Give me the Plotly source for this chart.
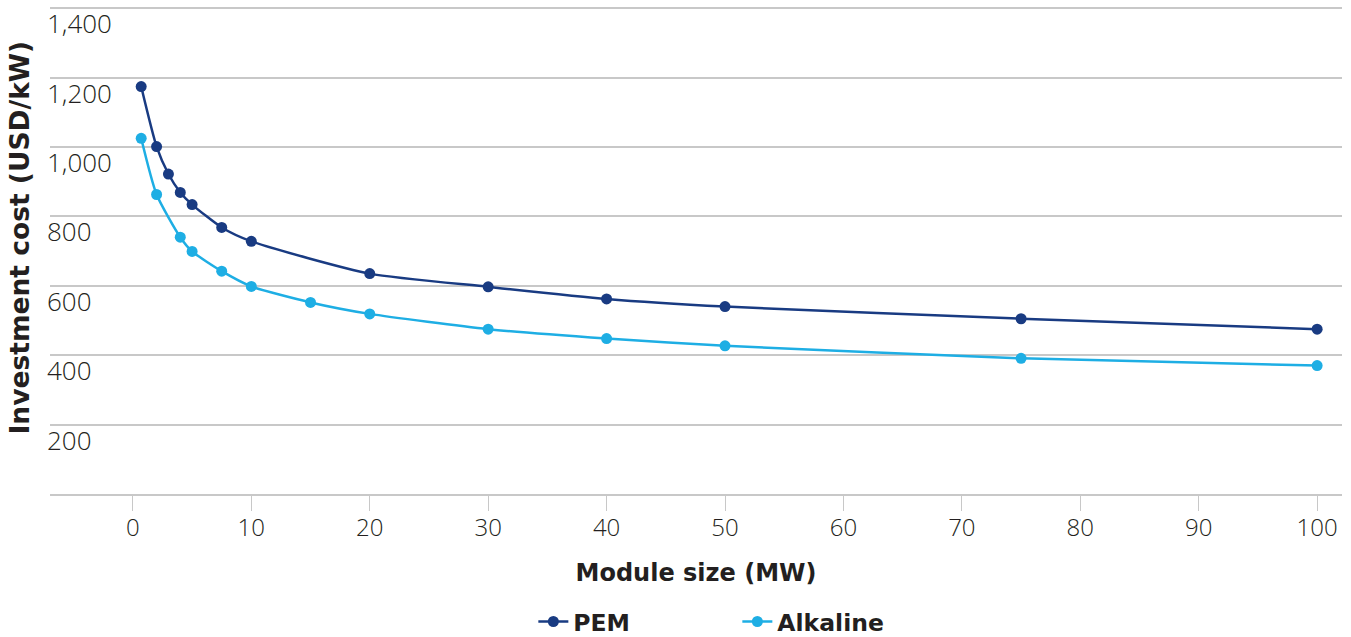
import plotly.graph_objects as go

pem_x = [0.7, 2, 3, 4, 5, 7.5, 10, 20, 30, 40, 50, 75, 100]
pem_y = [1174, 1001, 922, 869, 834, 768, 728, 635, 597, 562, 540, 505, 475]

alk_x = [0.7, 2, 4, 5, 7.5, 10, 15, 20, 30, 40, 50, 75, 100]
alk_y = [1025, 863, 740, 699, 642, 598, 552, 519, 475, 448, 427, 391, 370]

x_ticks = [0, 10, 20, 30, 40, 50, 60, 70, 80, 90, 100]
y_ticks = [200, 400, 600, 800, 1000, 1200, 1400]
y_ticktext = ["200", "400", "600", "800", "1,000", "1,200", "1,400"]

PEM_COLOR = "#193b82"
ALK_COLOR = "#1eaee4"
GRID = "#c8c8c8"
TXT = "#231f20"
TICK_FONT = "Open Sans"
BOLD_FONT = "DejaVu Sans"

fig = go.Figure()
fig.add_trace(go.Scatter(
    x=pem_x, y=pem_y, name="PEM", mode="lines+markers",
    line=dict(color=PEM_COLOR, width=2.5, shape="spline", smoothing=0.6),
    marker=dict(color=PEM_COLOR, size=11),
))
fig.add_trace(go.Scatter(
    x=alk_x, y=alk_y, name="Alkaline", mode="lines+markers",
    line=dict(color=ALK_COLOR, width=2.5, shape="spline", smoothing=0.6),
    marker=dict(color=ALK_COLOR, size=11),
))

# y tick labels sit just below their gridlines, as in the reference
for v, t in zip(y_ticks, y_ticktext):
    fig.add_annotation(
        x=0, xref="paper", xanchor="left", xshift=-5,
        y=v, yref="y", yanchor="middle", yshift=-15,
        text=t, showarrow=False,
        font=dict(family=TICK_FONT, size=26, color=TXT, weight=300),
    )

# y axis title (placed slightly above the plot's vertical centre, as in the reference)
fig.add_annotation(
    x=0, xref="paper", xanchor="center", xshift=-31,
    y=0.5, yref="paper", yanchor="middle", yshift=12,
    text="Investment cost (USD/kW)", textangle=-90, showarrow=False,
    font=dict(family=BOLD_FONT, size=26.5, color=TXT, weight="bold"),
)

fig.update_layout(
    width=1351, height=637,
    margin=dict(l=50, r=9, t=5, b=143),
    paper_bgcolor="white", plot_bgcolor="white",
    font=dict(family=TICK_FONT, color=TXT),
    showlegend=True,
    legend=dict(
        orientation="h", x=0.532, xanchor="center",
        yref="container", y=0.024, yanchor="middle",
        font=dict(family=BOLD_FONT, size=23.5, color=TXT, weight="bold"),
        entrywidth=159, tracegroupgap=0,
    ),
    xaxis=dict(
        range=[-7.0, 102.1], automargin=False,
        tickvals=x_ticks,
        ticks="outside", ticklen=15, tickcolor=GRID, tickwidth=1.2,
        showgrid=False, zeroline=False,
        showline=True, linecolor=GRID, linewidth=1.5,
        ticklabelstandoff=-4,
        tickfont=dict(family=TICK_FONT, size=24, color=TXT, weight=300),
        title=dict(text="Module size (MW)", standoff=23,
                   font=dict(family=BOLD_FONT, size=24, color=TXT, weight="bold")),
    ),
    yaxis=dict(
        range=[0, 1409], automargin=False,
        tickvals=y_ticks, showticklabels=False,
        ticks="", showgrid=True, gridcolor=GRID, gridwidth=1.5,
        zeroline=False, showline=False,
    ),
)

fig.write_html("out.html", config={"displayModeBar": False},
               post_script="document.body.style.margin='0';")
